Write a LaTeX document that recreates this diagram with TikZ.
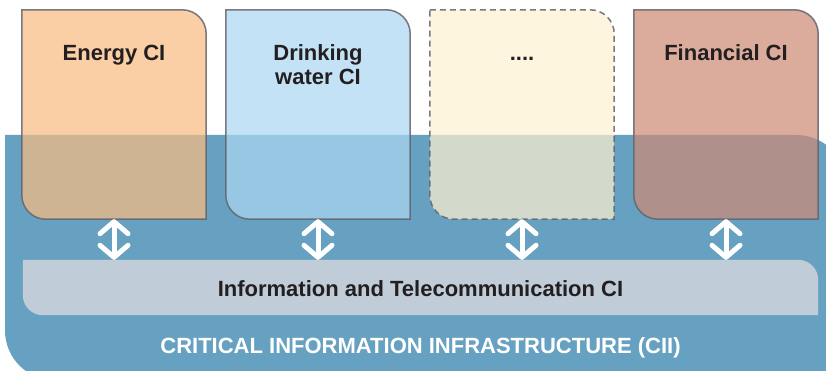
\documentclass[tikz,border=0pt]{standalone}
\usepackage{fontspec}
\setmainfont{Liberation Sans}
\usetikzlibrary{arrows.meta,positioning}
\definecolor{ciiblue}{RGB}{103,161,193}
\definecolor{ictgray}{RGB}{192,204,216}
\definecolor{edgegray}{RGB}{98,100,108}
\definecolor{textblack}{RGB}{35,31,32}
\definecolor{energyfill}{RGB}{248,188,130}
\definecolor{waterfill}{RGB}{172,215,241}
\definecolor{morefill}{RGB}{253,241,209}
\definecolor{financefill}{RGB}{205,138,117}

\begin{document}
\begin{tikzpicture}[x=1pt,y=-1pt,
                    cispace/.style={minimum width=184pt, minimum height=209pt,
                                    inner sep=0pt},
                    cibox/.style={draw=edgegray, line width=1.5pt,
                                  draw opacity=0.85, fill opacity=0.72},
                    citext/.style={font=\fontsize{22}{24}\selectfont\bfseries,
                                   text=textblack, align=center, anchor=base},
                    updown/.style={white, line width=5pt,
                                   {Straight Barb[length=12pt,width=28pt,round]}-{Straight Barb[length=12pt,width=28pt,round]}}]
    \useasboundingbox (0,0) rectangle (826,371);
    \clip (0,0) rectangle (826,371);

    % infrastructure background
    \node[minimum width=841pt, minimum height=245pt, inner sep=0pt,
          anchor=north west] (cii) at (5,135) {};
    \fill[ciiblue] (cii.north west) [rounded corners=50pt] -- (cii.north east)
        [sharp corners] -- (cii.south east)
        [rounded corners=50pt] -- (cii.south west)
        [sharp corners] -- cycle;

    % ict bar
    \node[minimum width=795pt, minimum height=55pt, inner sep=0pt] (ict) at (420.5,287.5) {};
    \fill[ictgray] (ict.north west) [rounded corners=20pt] -- (ict.north east)
        [sharp corners] -- (ict.south east)
        [rounded corners=20pt] -- (ict.south west)
        [sharp corners] -- cycle;

    % sector boxes
    \node[cispace] (energy) at (114,114.5) {};
    \node[cispace] (water) at (318,114.5) {};
    \node[cispace] (more) at (522,114.5) {};
    \node[cispace] (financial) at (726,114.5) {};

    \draw[cibox, fill=energyfill] (energy.north west) [rounded corners=24pt] -- (energy.north east)
        [sharp corners] -- (energy.south east)
        [rounded corners=24pt] -- (energy.south west)
        [sharp corners] -- cycle;
    \draw[cibox, fill=waterfill] (water.north west) [rounded corners=24pt] -- (water.north east)
        [sharp corners] -- (water.south east)
        [rounded corners=24pt] -- (water.south west)
        [sharp corners] -- cycle;
    \draw[cibox, fill=morefill, dash pattern=on 6pt off 4pt] (more.north west) [rounded corners=24pt] -- (more.north east)
        [sharp corners] -- (more.south east)
        [rounded corners=24pt] -- (more.south west)
        [sharp corners] -- cycle;
    \draw[cibox, fill=financefill] (financial.north west) [rounded corners=24pt] -- (financial.north east)
        [sharp corners] -- (financial.south east)
        [rounded corners=24pt] -- (financial.south west)
        [sharp corners] -- cycle;

    % labels
    \node[citext] (energyT) at (114,61) {Energy CI};
    \node[citext] (waterT) at (318,85) {Drinking\\water CI};
    \node[citext] (moreT) at (522,61) {....};
    \node[citext] (financialT) at (726,61) {Financial CI};
    \node[citext] (ictT) at (420.5,296) {Information and Telecommunication CI};
    \node[citext, text=white] (ciiT) at (420.5,353) {CRITICAL INFORMATION INFRASTRUCTURE (CII)};

    % exchange arrows
    \draw[updown] (energy.south) -- (energy.south |- ict.north);
    \draw[updown] (water.south) -- (water.south |- ict.north);
    \draw[updown] (more.south) -- (more.south |- ict.north);
    \draw[updown] (financial.south) -- (financial.south |- ict.north);
\end{tikzpicture}
\end{document}
